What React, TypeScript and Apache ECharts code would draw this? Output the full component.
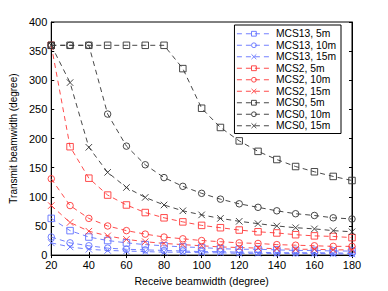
import React, { useEffect, useRef } from "react";
import * as echarts from "echarts";

const receiveBeamwidth = [20, 30, 40, 50, 60, 70, 80, 90, 100, 110, 120, 130, 140, 150, 160, 170, 180];

const mcs13_5m = [63, 42, 31, 25, 21, 18, 16, 14, 13, 11, 10, 10, 9, 8, 8, 7, 7];
const mcs13_10m = [31, 21, 16, 12, 10, 9, 8, 7, 6, 6, 5, 5, 4, 4, 4, 4, 3];
const mcs13_15m = [21, 14, 10, 8, 7, 6, 5, 5, 4, 4, 3, 3, 3, 3, 3, 2, 2];
const mcs2_5m = [360, 186, 132, 103, 86, 73, 64, 57, 51, 47, 43, 40, 38, 35, 33, 32, 30];
const mcs2_10m = [131, 85, 63, 50, 42, 36, 31, 28, 25, 23, 21, 20, 18, 17, 16, 15, 15];
const mcs2_15m = [85, 56, 41, 33, 27, 23, 20, 18, 16, 14, 13, 12, 11, 10, 10, 9, 9];
const mcs0_5m = [360, 360, 360, 360, 360, 360, 360, 320, 252, 219, 196, 178, 164, 152, 143, 135, 128];
const mcs0_10m = [360, 360, 360, 242, 187, 155, 133, 118, 106, 96, 88, 82, 76, 71, 68, 64, 62];
const mcs0_15m = [360, 296, 185, 142, 116, 99, 86, 76, 69, 63, 58, 54, 50, 47, 45, 42, 40];

const seriesNames = [
  "MCS13, 5m", "MCS13, 10m", "MCS13, 15m",
  "MCS2, 5m", "MCS2, 10m", "MCS2, 15m",
  "MCS0, 5m", "MCS0, 10m", "MCS0, 15m",
];
const seriesValues = [mcs13_5m, mcs13_10m, mcs13_15m, mcs2_5m, mcs2_10m, mcs2_15m, mcs0_5m, mcs0_10m, mcs0_15m];

const BLUE = "#6272ff";
const RED = "#ff3838";
const BLACK = "#333333";
const colors = [BLUE, BLUE, BLUE, RED, RED, RED, BLACK, BLACK, BLACK];

const SQUARE = "path://M0,0L10,0L10,10L0,10Z";
const CIRCLE = "path://M5,0A5,5 0 1,1 5,10A5,5 0 1,1 5,0Z";
const CROSS = "path://M0,0L10,10M10,0L0,10";
const symbols = [SQUARE, CIRCLE, CROSS];

const FONT = "Liberation Sans, Arial, sans-serif";

export default function App() {
  const ref = useRef<HTMLDivElement>(null);
  useEffect(() => {
    if (!ref.current) return;
    const chart = echarts.init(ref.current, null, { renderer: "svg" });
    const series = seriesNames.map((name, i) => ({
      name,
      type: "line",
      data: receiveBeamwidth.map((x, j) => [x, seriesValues[i][j]]),
      symbol: symbols[i % 3],
      symbolSize: 6.5,
      showAllSymbol: true,
      lineStyle: { color: colors[i], width: 0.9, type: [5, 4] },
      itemStyle: { color: "none", borderColor: colors[i], borderWidth: 0.9 },
      emphasis: { disabled: true },
      xAxisIndex: 0,
      yAxisIndex: 0,
    }));
    chart.setOption({
      animation: false,
      textStyle: { fontFamily: FONT },
      grid: { left: 50, right: 36, top: 22, bottom: 33, show: true, borderColor: "#000", borderWidth: 1, backgroundColor: "#fff" },
      legend: {
        data: seriesNames,
        orient: "vertical",
        right: 47,
        top: 25,
        itemGap: 0,
        itemWidth: 34,
        itemHeight: 6,
        padding: [3, 5, 2, 2],
        borderColor: "#000",
        borderWidth: 1,
        backgroundColor: "#fff",
        lineStyle: { width: 0.9 },
        itemStyle: { borderWidth: 0.9 },
        textStyle: { fontSize: 10.3, lineHeight: 11.5, color: "#000", fontFamily: FONT },
      },
      xAxis: [
        {
          type: "value",
          min: 20,
          max: 180,
          interval: 20,
          name: "Receive beamwidth (degree)",
          nameLocation: "middle",
          nameGap: 13,
          nameTextStyle: { fontSize: 10.5, color: "#000" },
          axisLine: { show: true, lineStyle: { color: "#000" } },
          axisTick: { show: true, inside: true, length: 3, lineStyle: { color: "#000" } },
          axisLabel: { fontSize: 11, color: "#000", margin: 4 },
          splitLine: { show: false },
        },
        {
          type: "value",
          position: "top",
          min: 20,
          max: 180,
          interval: 20,
          axisLine: { show: true, lineStyle: { color: "#000" } },
          axisTick: { show: true, inside: true, length: 3, lineStyle: { color: "#000" } },
          axisLabel: { show: false },
          splitLine: { show: false },
        },
      ],
      yAxis: [
        {
          type: "value",
          min: 0,
          max: 400,
          interval: 50,
          name: "Transmit beamwidth (degree)",
          nameLocation: "middle",
          nameGap: 22,
          nameTextStyle: { fontSize: 10, color: "#000", fontFamily: "Liberation Sans Narrow, Liberation Sans, Arial, sans-serif" },
          axisLine: { show: true, lineStyle: { color: "#000" } },
          axisTick: { show: true, inside: true, length: 3, lineStyle: { color: "#000" } },
          axisLabel: { fontSize: 11, color: "#000", margin: 4 },
          splitLine: { show: false },
        },
        {
          type: "value",
          position: "right",
          min: 0,
          max: 400,
          interval: 50,
          axisLine: { show: true, lineStyle: { color: "#000" } },
          axisTick: { show: true, inside: true, length: 3, lineStyle: { color: "#000" } },
          axisLabel: { show: false },
          splitLine: { show: false },
        },
      ],
      series,
    });
    return () => chart.dispose();
  }, []);
  return (
    <div
      ref={ref}
      style={{ position: "fixed", left: 0, top: 0, width: 388, height: 291, background: "#fff" }}
    />
  );
}
